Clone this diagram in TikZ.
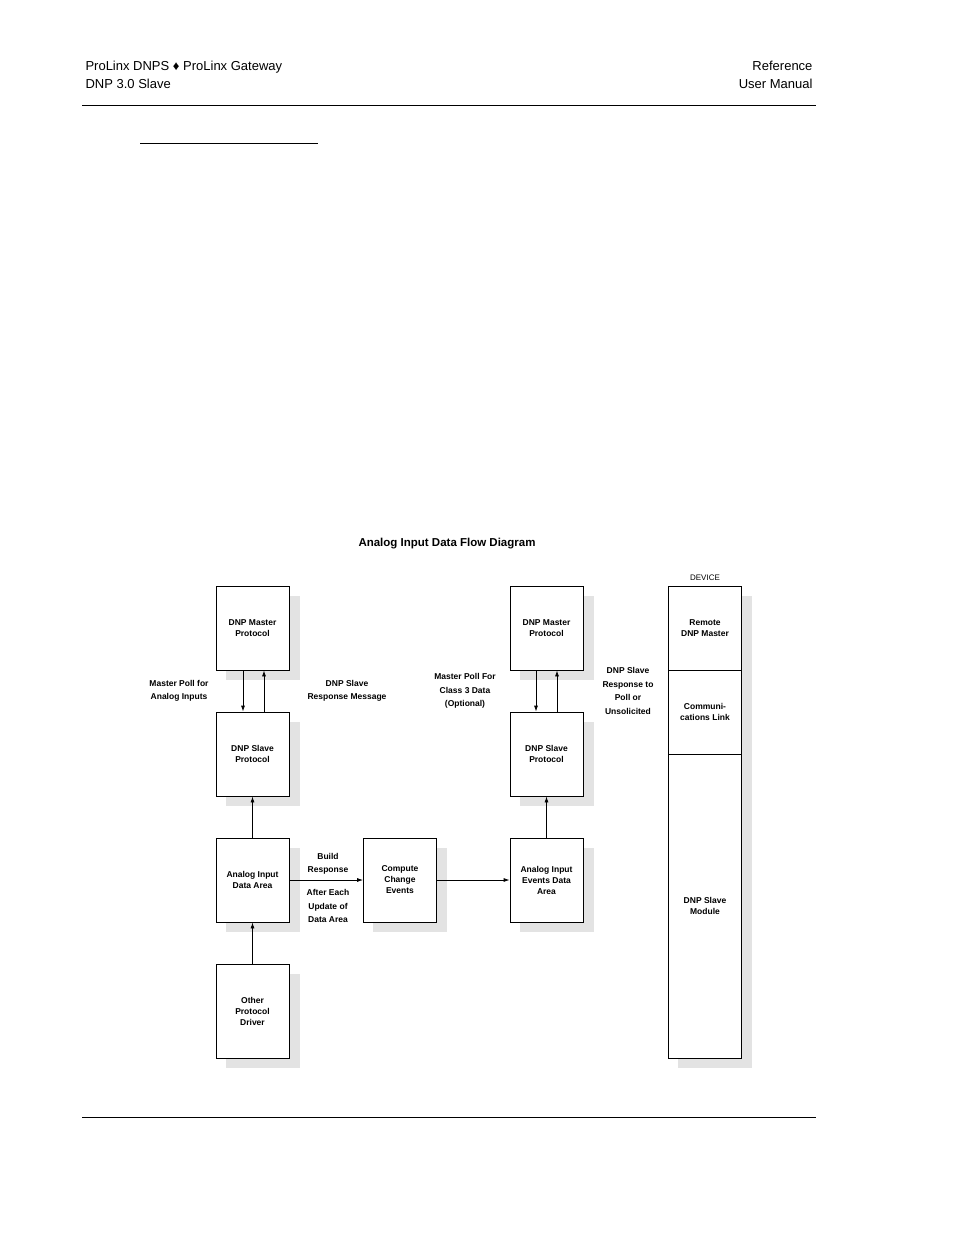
\documentclass[tikz,border=0pt]{standalone}
\usepackage{fontspec}
\setmainfont{Liberation Sans}
\usetikzlibrary{arrows.meta}
\begin{document}
\begin{tikzpicture}[x=1pt,y=-1pt,
  box/.style={draw,thick,fill=white,minimum width=73pt,align=center,font=\fontsize{8.5}{11}\selectfont\bfseries,inner sep=0pt},
  lbl/.style={align=center,font=\fontsize{8.5}{13.5}\selectfont\bfseries},
  arr/.style={-{Latex[length=6pt,width=4pt]},thick}]
\useasboundingbox (0,0) rectangle (954,1235);
\node[anchor=west,font=\fontsize{13}{18}\selectfont,align=left] (h1) at (82,75) {ProLinx DNPS ♦ ProLinx Gateway\\DNP 3.0 Slave};
\node[anchor=east,font=\fontsize{13}{18}\selectfont,align=right] (h2) at (816,75) {Reference\\User Manual};
\draw (82,105) -- (816,105);
\draw (140,143) -- (318,143);
\draw (82,1117) -- (816,1117);
\node[font=\fontsize{11.5}{14}\selectfont\bfseries] (title) at (447,544) {Analog Input Data Flow Diagram};
% shadows
\foreach \x/\ya/\yb in {216/586/670,216/712/796,216/838/922,216/964/1058,363/838/922,510/586/670,510/712/796,510/838/922,668/586/1058}
  \fill[gray!22] (\x+10,\ya+10) rectangle (\x+84,\yb+10);
\node[box,minimum height=84pt] (ml) at (252.5,628) {DNP Master\\Protocol};
\node[box,minimum height=84pt] (sl) at (252.5,754) {DNP Slave\\Protocol};
\node[box,minimum height=84pt] (ad) at (252.5,880) {Analog Input\\Data Area};
\node[box,minimum height=94pt] (op) at (252.5,1011) {Other\\Protocol\\Driver};
\node[box,minimum height=84pt] (cc) at (400,880) {Compute\\Change\\Events};
\node[box,minimum height=84pt] (mr) at (546.5,628) {DNP Master\\Protocol};
\node[box,minimum height=84pt] (sr) at (546.5,754) {DNP Slave\\Protocol};
\node[box,minimum height=84pt] (ev) at (546.5,880) {Analog Input\\Events Data\\Area};
\node[box,minimum height=84pt] (d1) at (705,628) {Remote\\DNP Master};
\node[box,minimum height=84pt] (d2) at (705,712) {Communi-\\cations Link};
\node[box,minimum height=304pt] (d3) at (705,906) {DNP Slave\\Module};
\node[font=\fontsize{8}{10}\selectfont] (dev) at (705,578) {DEVICE};
% arrows
\draw[arr] (ml.south -| 243,0) -- (sl.north -| 243,0);
\draw[arr] (sl.north -| 264,0) -- (ml.south -| 264,0);
\draw[arr] (mr.south -| 536,0) -- (sr.north -| 536,0);
\draw[arr] (sr.north -| 557,0) -- (mr.south -| 557,0);
\draw[arr] (ad) -- (sl);
\draw[arr] (op) -- (ad);
\draw[arr] (ad) -- (cc);
\draw[arr] (cc) -- (ev);
\draw[arr] (ev) -- (sr);
% labels
\node[lbl] (l1) at (179,691) {Master Poll for\\Analog Inputs};
\node[lbl] (l2) at (347,691) {DNP Slave\\Response Message};
\node[lbl] (l3) at (465,691) {Master Poll For\\Class 3 Data\\(Optional)};
\node[lbl] (l4) at (628,691) {DNP Slave\\Response to\\Poll or\\Unsolicited};
\node[lbl] (l5) at (328,864) {Build\\Response};
\node[lbl] (l6) at (328,906) {After Each\\Update of\\Data Area};
\end{tikzpicture}
\end{document}
